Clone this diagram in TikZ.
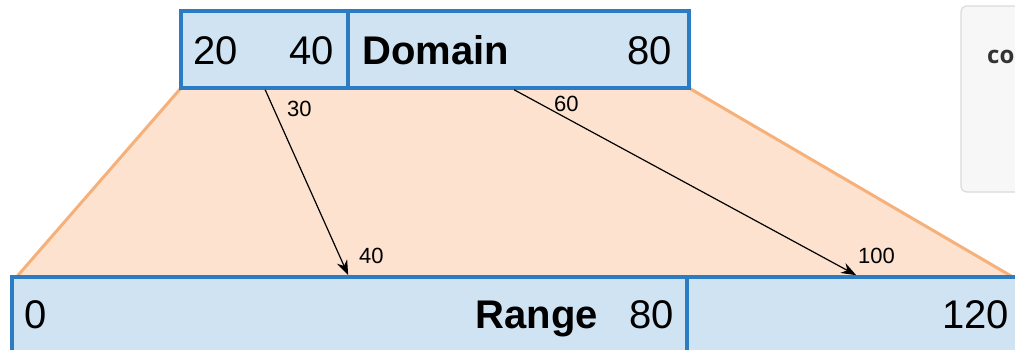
\documentclass[tikz,border=0pt]{standalone}
\usepackage{fontspec}
\setmainfont{Liberation Sans}
\newfontfamily\cardfont{Open Sans}
\usetikzlibrary{arrows.meta,calc}
\definecolor{boxfill}{HTML}{D0E3F2}
\definecolor{boxedge}{HTML}{2B7CC2}
\definecolor{fanfill}{HTML}{FDE2CF}
\definecolor{fanedge}{HTML}{F6B079}
\definecolor{cardfill}{HTML}{F7F7F7}
\definecolor{cardedge}{HTML}{DADADA}
\tikzset{
  seg/.style={draw=boxedge, fill=boxfill, line width=3.6pt, inner sep=0pt},
  big/.style={font=\fontsize{40}{40}\selectfont, inner sep=0pt},
  bigb/.style={font=\fontsize{40}{40}\selectfont\bfseries, inner sep=0pt},
  small/.style={font=\fontsize{22}{22}\selectfont, inner sep=0pt},
  mapto/.style={line width=1.2pt, -{Stealth[length=15pt,width=11pt]}},
}
\begin{document}
\begin{tikzpicture}[x=1pt,y=-1pt]
\useasboundingbox (0,0) rectangle (1015,349);
\clip (0,0) rectangle (1015,349);

% side card
\draw[cardedge, fill=cardfill, line width=1.2pt, rounded corners=6pt]
  (961,6) rectangle (1060,192);
\node[font=\cardfont\fontsize{24}{24}\selectfont\bfseries, text=black!80, anchor=base west, inner sep=0pt]
  (card) at (987,63) {co};

% projection fan between domain and range
\coordinate (fl) at (17,276.5);
\coordinate (fr) at (1012,276.5);
\coordinate (ftl) at (181,88);
\coordinate (ftr) at (689,88);
\fill[fanfill] (ftl) -- (ftr) -- (fr) -- (fl) -- cycle;
\draw[fanedge, line width=3pt] (ftl) -- (fl);
\draw[fanedge, line width=3pt] (ftr) -- (fr);

% domain and range segments
\node[seg, minimum width=167pt, minimum height=77pt] (dl) at (264.5,49.5) {};
\node[seg, minimum width=341pt, minimum height=77pt] (dr) at (518.5,49.5) {};
\node[seg, minimum width=675pt, minimum height=100pt] (rl) at (349.5,327) {};
\node[seg, minimum width=353pt, minimum height=100pt] (rr) at (863.5,327) {};

% labels
\node[big, anchor=base west] (t20) at (193,64) {20};
\node[big, anchor=base east] (t40) at (334,64) {40};
\node[bigb, anchor=base west] (tdom) at (362,64) {Domain};
\node[big, anchor=base east] (t80) at (672,64) {80};
\node[big, anchor=base west] (b0) at (24,328) {0};
\node[bigb, anchor=base east] (brng) at (598,328) {Range};
\node[big, anchor=base east] (b80) at (674,328) {80};
\node[big, anchor=base east] (b120) at (1009,328) {120};

% mapped points
\coordinate (p30) at ([xshift=86pt]dl.south west);
\coordinate (p40) at ([xshift=338pt]rl.north west);
\coordinate (p60) at ([xshift=168pt]dr.south west);
\coordinate (p100) at ([xshift=171pt]rr.north west);
\draw[mapto] (p30) -- (p40);
\draw[mapto] (p60) -- (p100);
\node[small, anchor=base west] (l30) at (287,116) {30};
\node[small, anchor=base west] (l60) at (554,111) {60};
\node[small, anchor=base west] (l40) at (359,263) {40};
\node[small, anchor=base west] (l100) at (858,263) {100};
\end{tikzpicture}
\end{document}
